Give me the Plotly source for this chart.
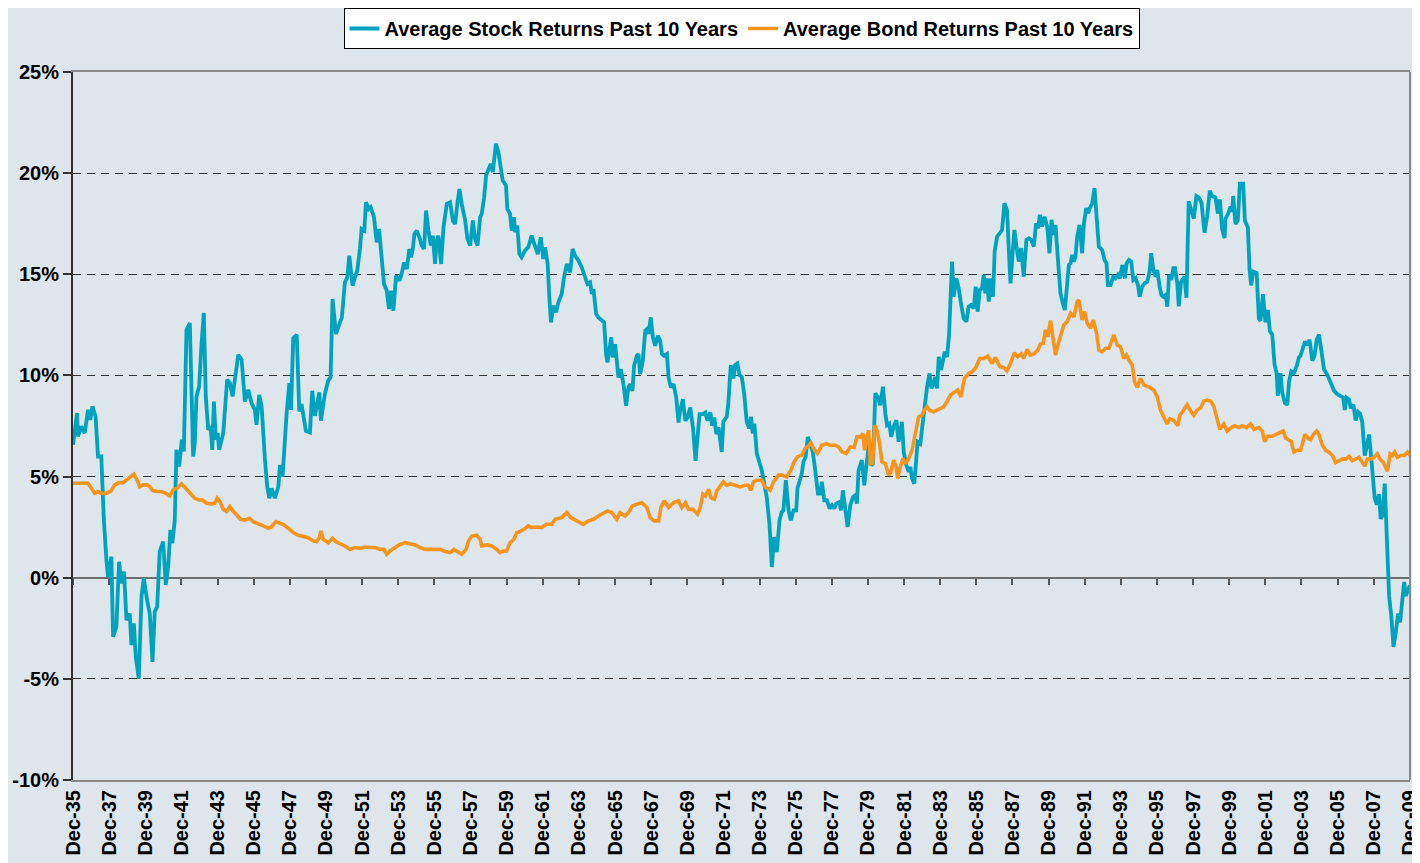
import numpy as np
import pandas as pd
import plotly.graph_objects as go

# months counted from Dec-1935, values in percent
stock_month = [
    0, 2.7, 3.3, 5.5, 7.8, 10, 11.5, 12.9, 15, 16.6, 18.8, 20.4, 22.2, 23.3, 25.5, 26.6, 28.8, 30.6, 32.2, 33.9,
    35.5, 37.7, 38.8, 40.4, 41.7, 43.7, 45.5, 47, 49.2, 51, 52.8, 54.3, 55.9, 57.6, 59.9, 61.6, 63.2, 64.7, 66, 67.6,
    68.7, 70.5, 72.3, 73.6, 75.4, 77.6, 79.8, 80.9, 82, 83.8, 85.4, 86.9, 88.2, 89.8, 91.4, 92.5, 93.6, 94.9, 96, 97.1,
    99.8, 100.9, 102.4, 104.2, 106, 107.5, 109.8, 112, 114.2, 116.4, 118.6, 120.8, 121.9, 123.7, 125.3, 127.5, 129,
    130.4, 131.9, 134.1, 136.4, 137.5, 139.2, 141.9, 143.7, 144.8, 146.3, 148.6, 150.3,
    151.8, 154.7, 157.4, 158.9, 160.7, 163.6, 164.7, 167.3, 169.5, 171.1, 172.4, 174.7, 177.3, 178.6, 180.6, 182.2,
    183.5, 185.7, 187.3, 188.8, 190.6, 191.7, 193.5, 194.6, 196.4, 197.7, 199.9, 201.7, 203.3, 205, 206.6, 208.4,
    209.9, 211.2, 212.8, 214.6, 216.8, 218.3, 219.9, 221.7, 223.4, 224.5, 225.7, 226.8, 228.3, 230.1, 231.6, 233.2,
    234.5, 236.1, 237.6, 239, 240.5, 241.6, 242.7, 244.5, 246.1, 248.3, 250.5, 252.3, 253.8, 255.4, 256.7, 258.2,
    260.5, 262, 263.8, 265.6, 267.1, 268.7, 270.4, 271.5, 273.1, 274.4, 276, 277.5, 278.9, 280.9, 282.6,
    285.4, 287.6, 288.5, 290.3, 291.4, 292.9, 293.6, 295.1, 296.5, 298, 300.2, 302.4, 304.7, 306.4, 308.7, 310.7,
    312.4, 313.5, 315.3, 316.4, 317.5, 319.1, 320.9, 322.4, 324.6, 326.2, 328, 330.2, 331.9, 333.5, 335.7, 337.9,
    340.1, 341.7, 343.5, 344.6, 345.7, 347.5, 349, 351.2, 352.8, 354.1, 355, 357.5, 358.5, 360.1, 361.2, 362.3,
    363.9, 365.6, 367.4, 368.9, 370.1, 371.6, 372.7, 374.5, 375.6, 376.7, 378.5, 380.1, 381.2, 382.3, 383.8, 385.2,
    386.7, 388.5, 390, 391.2, 392.7, 394.5, 395.6, 397.1, 398.9, 400.7, 402.2, 403.3, 405.1, 406.7, 408.2, 410,
    411.8, 413.5, 414.9, 416.2, 418.4, 420, 421.5, 423.3, 424.6, 426, 427.3, 428.8,
    430.9, 432, 434.2, 435.3, 436.9, 438.7, 439.8, 441.3, 442.7, 444.2, 445.8, 447.5, 449.1, 450.4, 451.5, 452.6,
    454.2, 456, 457.5, 459.1, 460.8, 462.6, 464.2, 465.7, 467.5, 469.3, 470.8, 471.9, 473.5, 475.3, 476.8, 478.6,
    480.4, 481.2, 483, 484.1, 485.2, 486.6, 488.1, 489.7, 491.4, 493, 494.8, 496.3, 497.4, 499, 500.8, 502.5, 504.1,
    505.6, 507, 509.2, 510.1, 511.4, 513, 514.5, 516.3, 518.1, 519.6, 520.7, 521.8, 524, 525.6, 527.4, 528.9, 530.2,
    531.4, 532.9, 534.5, 536.2, 538, 539.6, 540.7, 542.2, 543.5, 545.1, 546.9, 548.4, 550.6, 551.8, 553.5, 555.1,
    556.2, 557.3, 558.8, 559.9, 561, 562.8, 564.6, 566.2, 567.3, 569, 570.2, 571.7, 572.8, 573.9, 575.1, 576.6,
    577.9, 579, 580.6, 581.9,
    583.9, 585, 586.7, 588.3, 589.8, 591.6, 593.4, 594.9, 596.5, 598.3, 599.6, 600.9, 602.3, 603.8, 604.9, 606,
    607.1, 608.3, 609.8, 611.1, 612.2, 613.8, 615.6, 617.1, 618.7, 620.4, 621.6, 622.7, 623.8, 625.3, 626.7, 628.2,
    629.8, 631.5, 633.3, 634.9, 636.4, 638.2, 639.7, 641.1, 642.2, 643.7, 645.3, 647.1, 648.6, 650, 651.5, 652.6,
    654.1, 655.9, 657.5, 658.8, 660.4, 661.5, 662.6, 663.7, 664.8, 665.9, 667, 668.6, 670.3, 671.5, 673, 674.3,
    675.4, 677, 678.5, 679.9, 681.4, 683.6, 685.2, 686.5, 687.4, 689.2, 691, 692.5, 694.1, 695.4, 697, 698.7, 699.8,
    701.4, 702.9, 704.3, 705.8, 707.4, 708.5, 710.2, 711.8, 713.6, 715.1, 716.2, 717.6, 719.1, 720.2, 721.8, 722.9,
    724.2, 725.8, 726.9, 728, 729.5, 730.9, 732, 733.5,
    734.5, 736, 738.3, 739.6, 741.1, 742.7, 744.5, 746.2, 747.8, 749.6, 751.6, 753.3, 755.1, 756.7, 758.9, 760.4,
    761.8, 763.3, 764.9, 765.5, 767.3, 768.9, 770, 770.6, 772.2, 773.7, 775.1, 777.3, 778.4, 780.4, 781.5, 782.6,
    783.9, 786.2, 787.7, 788.8, 790.4, 792.1, 793.7, 795, 796.6, 798.1, 799.5, 800.3, 802.1, 803.2, 805, 806.6,
    807.7, 809.2, 811, 812.8, 814.3, 815.4, 817.2, 818.3, 819.9, 821.4, 823.2, 824.7, 826.1, 827.6, 829.2, 831,
    833.2, 835.4, 837.6, 839.8, 842, 843.8, 844.7, 846, 847.6, 848.7, 850.5, 852, 853.6, 854.9, 856.4, 858, 859.3,
    860.9, 862, 863.3, 864.6, 866, 867.5, 868.6, 869.8, 871.3, 872.4, 874.2, 875.7, 877.1, 878.6, 880.2, 881.5,
    883.1, 884.2, 885.3, 886.8, 888,
]
stock_pct = [
    6.57, 8.14, 6.98, 7.48, 7.15, 8.3, 7.8, 8.47, 7.97, 5.99, 6.0, 3.0, 0.87, 0.05, 1.04, -2.92, -2.43, 0.79, -0.28, 0.3,
    -2.1, -1.77, -3.33, -2.26, -3.91, -5.0, -0.94, -0.03, -1.1, -1.77, -4.16, -1.68, -1.44, 1.29, 1.78, -0.36, 0.54, 2.36, 1.7, 2.85,
    6.32, 5.5, 6.82, 6.24, 12.26, 12.59, 5.99, 6.65, 8.96, 9.46, 11.6, 13.09, 8.96, 7.31, 7.48, 6.32, 8.71, 6.82, 7.15, 6.32,
    7.15, 8.47, 9.79, 9.62, 8.96, 9.79, 11.02, 10.78, 8.71, 9.29, 8.63, 8.3, 7.56, 9.04, 8.47, 5.83, 4.5,
    3.93, 4.42, 3.93, 4.5, 5.58, 5.0, 8.14, 9.62, 8.3, 11.85, 12.01, 8.22,
    8.58, 7.26, 7.18, 9.24, 8.0, 9.16, 7.76, 9.08, 9.74, 9.9, 13.78, 12.05, 12.62, 12.87, 14.6, 14.85,
    15.92, 14.44, 14.85, 15.18, 16.25, 17.24, 17.16, 18.56, 18.23, 18.32, 17.82, 16.58, 17.24, 16.0, 14.52, 14.19,
    13.28, 14.19, 13.2, 14.93, 14.69, 15.02, 15.59, 15.26, 16.25, 15.84, 16.25, 17.0, 17.16, 16.83, 16.42, 16.25,
    18.15, 17.16, 16.42, 16.91, 15.51, 16.67, 16.91, 15.51, 17.33, 18.48, 18.56, 17.66, 17.49, 18.56, 19.22, 18.48,
    17.66, 16.75, 16.42, 17.66, 16.75, 16.42, 17.82, 17.99, 18.81, 19.88, 20.13, 20.46, 20.05, 21.45, 21.04,
    19.64, 19.39, 18.23, 17.99, 17.16, 17.82, 17.08, 17.41, 16.0, 15.84, 16.17, 16.34, 16.91, 16.5, 16.0, 16.83,
    15.76, 16.34, 15.51, 13.86, 12.62, 13.45, 13.12, 13.61, 14.03, 14.85, 15.51, 15.1, 16.25, 15.92, 15.68, 15.35,
    14.85, 14.52, 14.6, 14.03, 14.27, 13.04, 12.87, 12.71, 12.62, 11.06, 10.64, 11.88, 10.89, 11.55, 10.73, 9.9,
    10.31, 9.57, 8.5, 9.41, 9.57, 9.24, 10.48, 10.97, 11.06, 10.07, 10.73, 12.21, 12.29, 12.05, 12.87, 11.88,
    11.47, 11.96, 11.72, 11.06, 10.97, 11.06, 9.9, 9.41, 9.57, 8.91, 7.67, 8.25, 8.83, 7.76, 7.92, 8.42,
    7.43, 5.78, 7.01, 8.09, 8.09, 8.17, 7.76, 8.17, 7.51, 7.92, 7.1, 7.43,
    6.22, 7.71, 7.95, 8.61, 10.51, 9.85, 10.51, 10.59, 10.02, 9.93, 9.11, 7.71, 7.38, 7.95, 7.13, 7.62,
    6.14, 5.73, 5.31, 4.65, 3.99, 2.67, 0.53, 2.01, 1.27, 2.84, 3.25, 3.33, 4.82, 3.33, 2.84, 3.33,
    3.33, 4.41, 4.82, 5.15, 5.73, 5.97, 6.96, 6.63, 6.22, 5.31, 4.16, 4.16, 4.74, 3.83, 3.83, 3.42, 3.58,
    3.42, 3.66, 3.75, 3.33, 4.32, 3.33, 2.51, 3.58, 3.99, 4.08, 3.66, 5.31, 5.81, 4.57, 5.73, 6.8, 5.56,
    5.64, 9.11, 8.94, 8.53, 9.44, 8.12, 7.54, 7.62, 6.96, 7.46, 7.79, 6.72, 7.71, 6.22, 5.56, 5.23,
    5.48, 4.9, 4.65, 5.64, 6.72, 6.63, 7.79, 8.78, 9.44, 10.1, 9.36, 9.6, 9.93, 9.36, 10.92, 10.26,
    10.76, 11.17, 10.92, 12.0,
    15.63, 13.89, 14.8, 14.31, 13.56, 12.82, 12.66, 13.4, 13.48, 13.32, 14.39, 13.15, 14.22, 14.31, 14.97, 14.06,
    14.8, 13.65, 14.8, 13.89, 16.12, 16.86, 17.03, 17.19, 18.51, 18.18, 16.2, 14.55, 15.71, 17.19, 16.37, 15.63,
    16.29, 14.88, 16.7, 16.78, 16.7, 16.37, 17.52, 17.28, 17.94, 17.36, 17.85, 17.36, 16.04, 17.69, 16.95, 17.44,
    15.87, 14.06, 13.56, 13.23, 14.55, 15.46, 15.54, 15.96, 15.63, 15.87, 16.86, 17.44, 16.04, 17.52, 18.27, 18.02,
    18.27, 18.51, 19.26, 17.61, 16.37, 16.2, 15.71, 15.54, 14.47, 14.47, 14.88, 14.8, 14.97, 14.8, 15.46, 14.8, 15.54,
    15.71, 15.63, 14.72, 14.8, 14.47, 13.89, 14.39, 14.55, 14.64, 15.13, 16.04, 15.21, 14.88, 15.21, 14.39, 13.98,
    13.89, 13.98, 13.4, 14.97, 14.72, 15.3, 15.3, 14.55,
    13.41, 14.62, 14.88, 13.84, 18.61, 18.18, 17.75, 18.87, 18.79, 18.53, 17.05, 17.83, 19.13, 18.87, 18.79, 18.0,
    18.7, 17.22, 16.79, 17.75, 18.0, 18.35, 18.09, 18.87, 17.48, 17.66, 19.48, 19.48, 17.66, 17.31, 15.23, 14.45,
    15.14, 15.06, 12.8, 12.71, 14.02, 12.63, 13.24, 12.19, 12.02, 10.55, 10.11, 8.99, 10.11, 9.16, 8.64, 8.55,
    9.68, 10.2, 10.11, 10.46, 10.89, 10.98, 11.5, 11.67, 11.5, 11.76, 10.72, 10.98, 11.76, 12.02, 11.24, 10.29,
    10.03, 9.68, 9.25, 9.07, 8.99, 8.9, 8.29, 8.9, 8.81, 8.38, 8.55, 7.77, 8.2, 8.12, 7.68, 6.04, 6.47,
    7.08, 6.21, 5.0, 3.95, 3.61, 4.13, 2.91, 3.09, 4.65, 2.91, -0.9, -1.94, -3.42, -2.72, -1.77, -2.2,
    -0.73, -0.21, -0.9, -0.56, -0.38,
]

bond_month = [
    0, 2.2, 4.4, 7.8, 10, 12.2, 14.4, 16.6, 18.8, 22.2, 25.5, 27.7, 30.6, 33.3, 35.5, 38.1, 40.4, 42.6, 44.3, 46.6,
    49.2, 51, 52.8, 55.4, 58.8, 61.6, 64.3, 66.5, 69.2, 72.1, 74.3, 76.5, 78.7, 80.9, 83.8, 86, 88.7, 92, 94.2,
    95.8, 97.6, 99.8, 102, 104.2, 106, 108.6, 111.3, 114.2, 117.1, 119.7, 123.1, 126.4, 129.7, 131.9, 134.8,
    137.5, 140.1, 143,
    146.3, 149.6, 152.9, 156.2, 159.6, 161.8, 163.6, 164.7, 166.2, 169.6, 172.4, 174.7, 177.3, 180.6, 184, 187.3,
    190.6, 193.9, 197.3, 200.6, 203.9, 206.6, 208.4, 210.6, 213.9, 217.2, 220.5, 223.9, 227.2, 230.5, 233.9,
    237.2, 240.5, 243.8, 247.2, 250.5, 253.1, 256, 258.2, 261.1, 262.7, 264.9, 268.2, 270.4, 271.5, 274.9,
    278.2, 281.5,
    283.6, 285.8, 288, 290.3, 292.9, 294.7, 296.9, 299.6, 302.4, 304.7, 308, 311.3, 314.6, 318, 320.2, 324.6, 328,
    330.6, 334.6, 339, 342.4, 345.7, 349, 352.3, 355, 357.9, 361.2, 363.4, 366.7, 368.9, 371.6, 374.5, 377.8,
    381.2, 383.4, 386, 389, 390.5, 392.7, 395.6, 398.9, 402.2, 404.4, 406.7, 408.9, 411.8, 414.9, 416.6, 418.4,
    420, 422.2, 423.7, 426, 427.7,
    429.8, 432, 434.2, 436.5, 439.8, 443.1, 446.4, 448.6, 450.2, 452, 454.2, 457.5, 459.7, 463, 465.3, 468.6,
    470.8, 474.1, 476.8, 479, 481.2, 484.1, 486.3, 487.9, 490.1, 491.9, 494.5, 497.4, 500.3, 502.9, 506.3, 508.5,
    510.7, 513.6, 516.3, 518.9, 520.7, 523, 524.7, 525.8, 527.4, 528.5, 529.6, 531.1, 532.5, 534, 535.8, 537.3,
    539.6, 541.8, 543.3, 545.1, 546.7, 547.8, 549.5, 551.3, 552.9, 555.1, 557.3, 558.8, 560.6, 561.7, 564, 565.5,
    567.3, 569, 571.7, 573.9,
    576.1, 578.3, 580.5, 582.8, 585, 587.6, 589.8, 592.1, 595, 597.2, 599.4, 602.3, 605, 607.6, 610.5, 612.7,
    615.6, 618.2, 620.4, 622.7, 625.3, 627.5, 629.8, 631.5, 633.7, 636, 638.2, 640.8, 642.6, 644.4, 645.9, 647.5,
    649.3, 651.1, 652.6, 654.8, 656.6, 658.1, 660.4, 662.6, 664.8, 667, 668.1, 670.3, 671.9, 673.7, 675.9, 677.7,
    679.9, 681.4, 683.6, 685.9, 688.1, 689.6, 691.4, 693.6, 695.8, 698, 699.8, 701.4, 703.6, 705.1, 706.9, 709.1,
    711.4, 714.7, 718, 720.2,
    722.3, 724.5, 726.7, 728.5, 731.2, 733.8, 735.2, 737.8, 740, 742.7, 744.5, 746.7, 748.9, 751.1, 753.3, 755.6,
    757.8, 759.6, 761.8, 764.4, 766.6, 769.3, 771.5, 774.4, 776.6, 779.5, 782.2, 784.4, 787.7, 790, 791.5, 793.7,
    796.6, 798.8, 801.7, 803.9, 805.5, 807.7, 809.2, 811, 813.2, 815.4, 817.2, 818.3, 820.3, 822.1, 823.9, 826.1,
    827.6, 829.8, 832, 834.3, 836.5, 838.7, 840.9, 843.1, 845.4, 847.6, 849.8, 852, 854.2, 856.5, 858, 859.8, 862,
    864.2, 866.4, 868.2, 870.4, 872, 873.1, 874.9, 876.4, 877.9, 879.7, 881.9, 884.2, 886.4, 888,
]
bond_pct = [
    4.67, 4.67, 4.64, 4.64, 4.67, 4.42, 4.17, 4.26, 4.17, 4.17, 4.31, 4.59, 4.7, 4.7, 4.83, 5.0, 5.12, 4.83, 4.5, 4.59,
    4.59, 4.5, 4.31, 4.26, 4.26, 4.17, 4.04, 4.34, 4.42, 4.64, 4.47, 4.31, 4.09, 3.93, 3.84, 3.84, 3.68, 3.65, 3.68,
    3.93, 3.76, 3.38, 3.27, 3.51, 3.32, 3.1, 2.89, 2.85, 2.94, 2.77, 2.64, 2.56, 2.44, 2.52, 2.77,
    2.69, 2.61, 2.44,
    2.23, 2.1, 2.06, 1.98, 1.82, 1.78, 1.98, 2.31, 1.9, 1.73, 1.95, 1.78, 1.68, 1.57, 1.4, 1.49,
    1.45, 1.52, 1.49, 1.49, 1.4, 1.4, 1.16, 1.32, 1.49, 1.65, 1.73, 1.68, 1.62, 1.49, 1.4,
    1.4, 1.4, 1.4, 1.29, 1.24, 1.4, 1.24, 1.16, 1.4, 1.82, 2.06, 2.1, 1.9, 1.57, 1.62,
    1.57, 1.4,
    1.24, 1.32, 1.32, 1.73, 1.9, 2.23, 2.28, 2.39, 2.56, 2.48, 2.51, 2.48, 2.64, 2.64, 2.89, 2.97, 3.22,
    2.97, 2.81, 2.64, 2.81, 2.89, 3.05, 3.17, 3.3, 3.22, 2.89, 3.22, 3.05, 3.22, 3.55, 3.63, 3.71,
    3.47, 2.97, 2.81, 2.81, 3.47, 3.8, 3.47, 3.71, 3.8, 3.47, 3.71, 3.38, 3.38, 3.14, 3.47, 4.13,
    4.04, 4.37, 3.96, 3.88, 4.29,
    4.49, 4.74, 4.57, 4.65, 4.57, 4.49, 4.57, 4.57, 4.32, 4.74, 4.82, 4.82, 4.49, 4.32, 4.74, 5.07,
    5.07, 4.98, 5.31, 5.73, 5.97, 6.06, 6.39, 6.47, 6.67, 6.39, 6.14, 6.55, 6.63, 6.55, 6.55, 6.47,
    6.22, 6.14, 6.47, 6.44, 6.96, 6.96, 7.13, 6.3, 6.96, 7.29, 5.64, 5.64, 7.54, 7.29, 6.63, 5.73,
    5.64, 5.07, 5.23, 5.81, 5.48, 4.9, 5.48, 5.89, 5.64, 5.89, 6.3, 6.8, 7.46, 7.95, 8.04, 8.28,
    8.45, 8.28, 8.2, 8.28,
    8.37, 8.45, 8.7, 9.03, 9.14, 9.27, 8.94, 9.85, 10.1, 10.18, 10.35, 10.84, 10.84, 10.96, 10.59, 10.89,
    10.43, 10.4, 10.23, 10.59, 11.12, 10.92, 11.06, 10.84, 11.29, 11.01, 11.06, 11.25, 11.55, 11.58, 12.24, 11.91,
    12.71, 11.58, 11.01, 11.67, 12.08, 12.49, 12.66, 13.07, 12.9, 13.65, 13.73, 12.74, 13.15, 12.57, 12.33, 12.74,
    12.08, 11.25, 11.17, 11.34, 11.34, 11.67, 12.0, 11.5, 11.42, 10.84, 11.01, 10.76, 10.51, 9.69, 9.41, 9.85,
    9.52, 9.44, 9.27, 8.94,
    8.29, 7.94, 7.6, 7.86, 7.77, 7.51, 8.03, 8.29, 8.55, 8.2, 8.03, 8.29, 8.38, 8.73, 8.78, 8.73,
    8.46, 7.94, 7.34, 7.6, 7.25, 7.42, 7.51, 7.42, 7.51, 7.42, 7.6, 7.34, 7.42, 7.25, 6.73, 6.99,
    6.99, 7.08, 7.16, 7.25, 6.9, 6.82, 6.73, 6.21, 6.3, 6.3, 6.73, 7.08, 6.9, 6.82, 7.08, 7.25,
    7.08, 6.56, 6.3, 6.21, 6.04, 5.69, 5.78, 5.86, 5.86, 6.0, 5.78, 5.86, 5.95, 5.69, 5.52, 5.86, 5.86,
    5.95, 6.12, 5.86, 5.69, 5.43, 5.26, 6.12, 6.04, 6.21, 5.95, 6.04, 6.04, 6.21, 6.04,
]

y_ticks = [-10, -5, 0, 5, 10, 15, 20, 25]
y_tick_labels = ["-10%", "-5%", "0%", "5%", "10%", "15%", "20%", "25%"]

start = pd.Timestamp("1935-12-01")


def to_dates(months):
    return start + pd.to_timedelta(np.array(months) * 30.4375, unit="D")


FONT = "Liberation Sans, Arial, sans-serif"
BG = "#DEE5EB"

fig = go.Figure()
fig.add_trace(
    go.Scatter(
        x=to_dates(stock_month),
        y=stock_pct,
        name="Average Stock Returns Past 10 Years",
        mode="lines",
        line=dict(color="#00A3BF", width=3.8),
    )
)
fig.add_trace(
    go.Scatter(
        x=to_dates(bond_month),
        y=bond_pct,
        name="Average Bond Returns Past 10 Years",
        mode="lines",
        line=dict(color="#F7941D", width=3.6),
        xaxis="x2",
    )
)

# a couple of days past Dec-09 so the last tick label is kept
x_range = ["1935-12-01", "2009-12-03"]

# page body adds an 8px offset, so the figure is 8px smaller than the window
fig.update_layout(
    width=1412,
    height=855,
    margin=dict(l=65, r=10, t=64, b=83, autoexpand=False),
    paper_bgcolor=BG,
    plot_bgcolor=BG,
    font=dict(family=FONT, size=20, color="black", weight="bold"),
    showlegend=True,
    legend=dict(
        orientation="h",
        x=0.5,
        xanchor="center",
        y=1.0904,
        yanchor="top",
        bgcolor="white",
        bordercolor="black",
        borderwidth=1,
        font=dict(family=FONT, size=20, weight="bold"),
        itemwidth=30,
    ),
    xaxis=dict(
        type="date",
        range=x_range,
        tick0="1935-12-01",
        dtick="M24",
        tickformat="%b-%y",
        tickangle=-90,
        ticks="",
        showgrid=False,
        zeroline=False,
        showline=True,
        linecolor="#8A8A8A",
        linewidth=2,
        mirror=True,
        automargin=False,
        ticklabeloverflow="allow",
        tickfont=dict(size=20, weight="bold"),
    ),
    xaxis2=dict(
        type="date",
        overlaying="x",
        matches="x",
        anchor="free",
        position=10 / 35,
        range=x_range,
        tick0="1935-12-01",
        dtick="M24",
        ticks="outside",
        ticklen=6,
        tickwidth=1.5,
        tickcolor="#555555",
        showticklabels=False,
        showgrid=False,
        zeroline=False,
        showline=False,
        automargin=False,
        layer="below traces",
    ),
    yaxis=dict(
        range=[-10, 25],
        tickmode="array",
        tickvals=y_ticks,
        ticktext=y_tick_labels,
        ticks="outside",
        ticklen=8,
        tickcolor="#333333",
        tickwidth=1.5,
        showline=True,
        linecolor="#333333",
        linewidth=2,
        showgrid=True,
        gridcolor="#333333",
        gridwidth=1,
        griddash="8px,6px",
        zeroline=True,
        zerolinecolor="#6E6E6E",
        zerolinewidth=2,
        automargin=False,
        tickfont=dict(size=20, weight="bold"),
    ),
)

# grey frame on the right side of the plot area
fig.add_shape(
    type="line",
    xref="paper",
    yref="paper",
    x0=1,
    x1=1,
    y0=0,
    y1=1,
    line=dict(color="#8A8A8A", width=2),
    layer="above",
)

fig.write_html("out.html")
